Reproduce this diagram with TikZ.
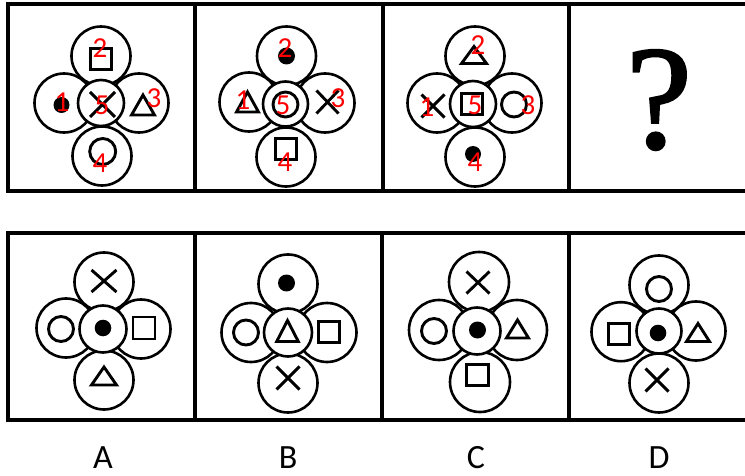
\documentclass[tikz,border=0pt]{standalone}
\usepackage{fontspec}
\newfontfamily\labelfont{Carlito}
\newfontfamily\qfont{Liberation Serif}[FakeBold=1.6]
\begin{document}
\begin{tikzpicture}[x=1pt, y=-1pt,
    frame/.style={black, line width=3.2pt},
    petal/.style={draw=black, line width=2.6pt, fill=white},
    sym/.style={black, line width=2.9pt},
    num/.style={text=red, font=\labelfont\fontsize{29}{29}\selectfont, inner sep=0pt},
    letter/.style={font=\labelfont\fontsize{34}{34}\selectfont, inner sep=0pt, text depth=0pt, anchor=base}]
    \useasboundingbox (0,0) rectangle (745,476);

    \draw[frame] (8,4) rectangle (748,191);
    \draw[frame] (195,4) -- (195,191);
    \draw[frame] (383,4) -- (383,191);
    \draw[frame] (569,4) -- (569,191);

    \draw[frame] (8,233) rectangle (748,420);
    \draw[frame] (195,233) -- (195,420);
    \draw[frame] (382,233) -- (382,420);
    \draw[frame] (569,233) -- (569,420);

    \begin{scope}[shift={(101,103)}]
        \draw[petal] (0,-47) circle (29.5);
        \draw[petal] (1,53) circle (29.5);
        \draw[petal] (-37,0) circle (29.5);
        \draw[petal] (38,0) circle (29.5);
        \draw[petal] (0,0) circle (23);
        \draw[sym] (-10.5,-54.5) rectangle ++(21,21);
        \fill (-39.5,2) circle (8);
        \draw[sym] (-11,-11) -- (14,14) (-11,14) -- (14,-11);
        \draw[sym] (30.5,12) -- (53.5,12) -- (42,-8) -- cycle;
        \draw[sym] (1.7,48.5) circle (13);
        \node[num] (p1a) at (-39,-1) {1};
        \node[num] (p1b) at (-1,-55) {2};
        \node[num] (p1c) at (53,-5) {3};
        \node[num] (p1d) at (-1,60) {4};
        \node[num] (p1e) at (1,2) {5};
    \end{scope}

    \begin{scope}[shift={(285.5,104)}]
        \draw[petal] (1,-48) circle (29.5);
        \draw[petal] (0.5,53) circle (29.5);
        \draw[petal] (-36.5,-2) circle (29.5);
        \draw[petal] (39.5,-1) circle (29.5);
        \draw[petal] (0,0) circle (22.5);
        \draw[sym] (0,0.5) circle (12.5);
        \fill (1,-48) circle (8.5);
        \draw[sym] (-49,8) -- (-27,8) -- (-38,-12) -- cycle;
        \draw[sym] (31,-13.5) -- (53,9.5) (31,9.5) -- (53,-13.5);
        \draw[sym] (-10,34.5) rectangle ++(21,21);
        \node[num] (p2a) at (-42.5,-4) {1};
        \node[num] (p2b) at (-0.5,-56) {2};
        \node[num] (p2c) at (52.5,-6) {3};
        \node[num] (p2d) at (-0.5,58) {4};
        \node[num] (p2e) at (-2.5,1) {5};
    \end{scope}

    \begin{scope}[shift={(473,104)}]
        \draw[petal] (2,-48) circle (29.5);
        \draw[petal] (2,53) circle (29.5);
        \draw[petal] (-36,-1) circle (29.5);
        \draw[petal] (39,-1) circle (29.5);
        \draw[petal] (0,0) circle (23);
        \draw[sym] (-11.5,-40.5) -- (13.5,-40.5) -- (1,-57.5) -- cycle;
        \draw[sym] (-51.5,-9.5) -- (-28.5,13.5) (-51.5,13.5) -- (-28.5,-9.5);
        \draw[sym] (-11.8,-10.5) rectangle ++(21,21);
        \draw[sym] (41,0.5) circle (12.5);
        \fill (0,50) circle (8);
        \node[num] (p3a) at (-46,3) {1};
        \node[num] (p3b) at (5,-59) {2};
        \node[num] (p3c) at (55,1) {3};
        \node[num] (p3d) at (2,58) {4};
        \node[num] (p3e) at (2,1) {5};
    \end{scope}

    \node[font=\qfont\fontsize{148}{148}\selectfont, inner sep=0pt, anchor=base] (qmark) at (659,148) {?};

    \begin{scope}[shift={(103,329)}]
        \draw[petal] (1,-47) circle (29.5);
        \draw[petal] (1,51) circle (29.5);
        \draw[petal] (-37,-1) circle (29.5);
        \draw[petal] (38,0) circle (29.5);
        \draw[petal] (0,0) circle (23.5);
        \draw[sym] (-11.5,-59) -- (13.5,-37) (-11.5,-37) -- (13.5,-59);
        \draw[sym] (-42,0) circle (12.5);
        \fill (0,-1) circle (8.3);
        \draw[sym] (30,-12) rectangle ++(22,22);
        \draw[sym] (-11.5,56) -- (13.5,56) -- (1,38) -- cycle;
    \end{scope}

    \begin{scope}[shift={(288,332.5)}]
        \draw[petal] (0,-48.5) circle (29.5);
        \draw[petal] (0,50.5) circle (29.5);
        \draw[petal] (-37,0) circle (29.5);
        \draw[petal] (39,0) circle (29.5);
        \draw[petal] (0,0) circle (24);
        \fill (-1.5,-49.5) circle (8.5);
        \draw[sym] (-42,0) circle (12.5);
        \draw[sym] (-11.3,9) -- (10.3,9) -- (-0.5,-12) -- cycle;
        \draw[sym] (30.2,-11.3) rectangle ++(21.7,21.7);
        \draw[sym] (-11.5,34) -- (11.5,57) (-11.5,57) -- (11.5,34);
    \end{scope}

    \begin{scope}[shift={(477,331)}]
        \draw[petal] (2,-49) circle (30);
        \draw[petal] (3,51) circle (30);
        \draw[petal] (-38,-1) circle (30);
        \draw[petal] (40,-1) circle (30);
        \draw[petal] (0,0) circle (23.5);
        \draw[sym] (-10.5,-59.5) -- (12.5,-37.5) (-10.5,-37.5) -- (12.5,-59.5);
        \draw[sym] (-43,0) circle (12.5);
        \fill (0.5,-1) circle (8.5);
        \draw[sym] (29.5,7) -- (51.5,7) -- (40.5,-11) -- cycle;
        \draw[sym] (-10.3,33.2) rectangle ++(21.6,21.6);
    \end{scope}

    \begin{scope}[shift={(659,331)}]
        \draw[petal] (0,-46) circle (29.5);
        \draw[petal] (0,52) circle (29.5);
        \draw[petal] (-38,0.7) circle (29.5);
        \draw[petal] (37,0) circle (29.5);
        \draw[petal] (0,0) circle (22.5);
        \draw[sym] (0,-42) circle (12.5);
        \draw[sym] (-50.8,-7.8) rectangle ++(21.7,21.7);
        \fill (-1,2) circle (8.3);
        \draw[sym] (27.5,10.5) -- (50.5,10.5) -- (39,-7.5) -- cycle;
        \draw[sym] (-13.5,37.5) -- (9.5,60.5) (-13.5,60.5) -- (9.5,37.5);
    \end{scope}

    \node[letter] (optA) at (103,468) {A};
    \node[letter] (optB) at (288,468) {B};
    \node[letter] (optC) at (476,468) {C};
    \node[letter] (optD) at (659,468) {D};
\end{tikzpicture}
\end{document}
